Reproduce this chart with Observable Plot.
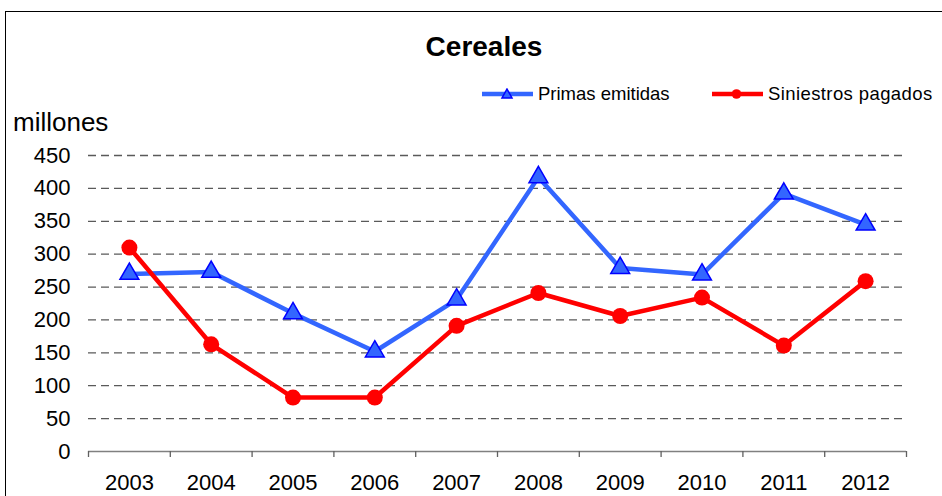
<!DOCTYPE html>
<html>
<head>
<meta charset="utf-8">
<script src="https://cdn.jsdelivr.net/npm/d3@7"></script>
<script src="https://cdn.jsdelivr.net/npm/@observablehq/plot@0.6"></script>
<style>
  html, body { margin: 0; padding: 0; background: #fff; overflow: hidden; }
  body { font-family: "Liberation Sans", Arial, sans-serif; color: #000; }
  #wrap { position: relative; width: 942px; height: 496px; overflow: hidden; }
  #frame { position: absolute; left: 5px; top: 11px; width: 1000px; height: 600px; border: 1.5px solid #000; box-sizing: border-box; }
  #title { position: absolute; left: 0; width: 968px; top: 32.5px; text-align: center; font-weight: bold; font-size: 28px; line-height: 28px; }
  .lgtext { position: absolute; top: 85px; font-size: 18.5px; line-height: 18.5px; white-space: nowrap; }
  .lgsw { position: absolute; top: 88px; }
  #ylab { position: absolute; left: 13px; top: 108.7px; font-size: 26px; line-height: 26px; }
  #chart { position: absolute; left: 0; top: 0; }
</style>
</head>
<body>
<div id="wrap">
  <div id="frame"></div>
  <div id="title">Cereales</div>
  <svg class="lgsw" style="left:482px" width="51" height="12">
    <line x1="0" y1="6" x2="51" y2="6" stroke="#3366FF" stroke-width="4.5"/>
    <path d="M25,1 L30,10 L20,10 Z" fill="#3366FF" stroke="#0000FF" stroke-width="1.5"/>
  </svg>
  <div class="lgtext" style="left:538px">Primas emitidas</div>
  <svg class="lgsw" style="left:712px" width="51" height="12">
    <line x1="0" y1="6" x2="51" y2="6" stroke="#FF0000" stroke-width="4.5"/>
    <circle cx="24.5" cy="6" r="4.8" fill="#FF0000"/>
  </svg>
  <div class="lgtext" style="left:768px; letter-spacing:0.4px">Siniestros pagados</div>
  <div id="ylab">millones</div>
  <div id="chart"></div>
</div>
<script>
const years = [2003, 2004, 2005, 2006, 2007, 2008, 2009, 2010, 2011, 2012];
const primasEmitidas = [270, 273, 210, 152, 231, 417, 279, 269, 392, 345];
const siniestrosPagados = [310, 163, 82, 82, 191, 241, 206, 234, 161, 259];
const yTicks = [0, 50, 100, 150, 200, 250, 300, 350, 400, 450];

const primas = years.map((y, i) => ({year: y, value: primasEmitidas[i]}));
const siniestros = years.map((y, i) => ({year: y, value: siniestrosPagados[i]}));
const boundaries = [...years.map(y => y - 0.5), years[years.length - 1] + 0.5];

const blue = "#3366FF";
const red = "#FF0000";

const chart = Plot.plot({
  width: 942,
  height: 496,
  marginLeft: 88,
  marginRight: 36,
  marginTop: 155,
  marginBottom: 45,
  style: {fontFamily: '"Liberation Sans", Arial, sans-serif', fontSize: "22px", background: "transparent", color: "#000"},
  x: {type: "linear", domain: [years[0] - 0.5, years[years.length - 1] + 0.5]},
  y: {domain: [0, 450]},
  marks: [
    Plot.ruleY(yTicks.filter(d => d > 0), {stroke: "#5a5a5a", strokeWidth: 1.3, strokeDasharray: "8,5"}),
    Plot.ruleY([0], {stroke: "#808080", strokeWidth: 1.5}),
    Plot.ruleX(boundaries, {y1: 0, y2: 0, insetBottom: -6, stroke: "#606060", strokeWidth: 1.3}),
    Plot.axisY({ticks: yTicks, tickSize: 0, tickPadding: 18, label: null, tickFormat: d => String(d), fontSize: 22}),
    Plot.axisX({ticks: years, tickSize: 0, tickPadding: 23, label: null, tickFormat: d => String(d), fontSize: 22}),
    Plot.line(primas, {x: "year", y: "value", stroke: blue, strokeWidth: 4.5, strokeLinejoin: "round"}),
    Plot.dot(primas, {x: "year", y: "value", symbol: "triangle", r: 7, fill: blue, stroke: "#0000FF", strokeWidth: 1.5}),
    Plot.line(siniestros, {x: "year", y: "value", stroke: red, strokeWidth: 4.5, strokeLinejoin: "round"}),
    Plot.dot(siniestros, {x: "year", y: "value", symbol: "circle", r: 8, fill: red, stroke: "none"})
  ]
});
document.getElementById("chart").appendChild(chart);
</script>
</body>
</html>
